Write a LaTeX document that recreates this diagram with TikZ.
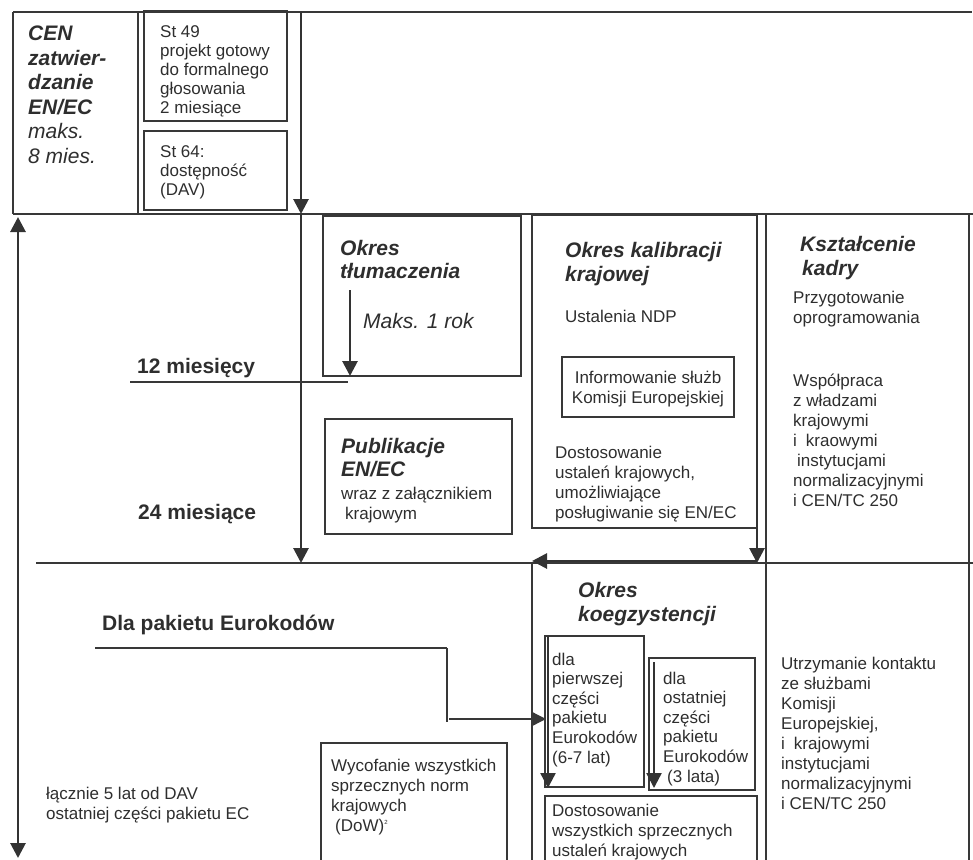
\documentclass[tikz,border=0pt]{standalone}
\usepackage{fontspec}
\setmainfont{Liberation Sans}
\usetikzlibrary{arrows.meta}

\begin{document}
\begin{tikzpicture}[x=1pt,y=-1pt,>={Triangle[length=15pt,width=15pt]},line join=miter,
  ln/.style={draw=black!78,line width=1.4pt},
  thk/.style={draw=black!80,line width=2.8pt},
  hd/.style={anchor=base west,inner sep=0pt,align=left,text=black!82,
    font=\fontsize{21}{23.5}\selectfont\bfseries\itshape},
  lbl/.style={anchor=base west,inner sep=0pt,text=black!82,
    font=\fontsize{21}{24}\selectfont\bfseries},
  txt/.style={anchor=base west,inner sep=0pt,align=left,text=black!82,
    font=\fontsize{17}{20}\selectfont}]
  \useasboundingbox (0,0) rectangle (973,859);
  % multi-line texts are placed at the baseline of their last line

  % time axis
  \coordinate (t0) at (301,12);
  \coordinate (t1) at (301,214);
  \coordinate (t2) at (301,563);
  \coordinate (l0) at (18,217);
  \coordinate (l1) at (18,858);

  % top band: CEN
  \draw[ln] (13,12) -- (972,12);
  \draw[ln] (13,12) -- (13,214);
  \draw[ln] (138,12) -- (138,214);
  \draw[ln] (13,214) -- (973,214);
  \draw[ln] (144,11) rectangle (287,121);
  \draw[ln] (144,131) rectangle (287,210);
  \node[hd,font=\fontsize{21}{24.5}\selectfont\itshape] (cen) at (28,163)
    {\textbf{CEN}\\\textbf{zatwier-}\\\textbf{dzanie}\\\textbf{EN/EC}\\maks.\\8 mies.};
  \node[txt,font=\fontsize{17}{19}\selectfont] (st49) at (160,113)
    {St 49\\projekt gotowy\\do formalnego\\głosowania\\2 miesiące};
  \node[txt,font=\fontsize{17}{19}\selectfont] (st64) at (160,195)
    {St 64:\\dostępność\\(DAV)};
  \draw[thk,->] (t0) -- (t1);

  % middle band
  \draw[thk,->] (t1) -- (t2);
  \draw[thk,<->] (l0) -- (l1);
  \draw[ln] (36,563) -- (973,563);
  \coordinate (m12a) at (130,382);
  \coordinate (m12b) at (348,382);
  \draw[ln] (m12a) -- (m12b);
  \node[lbl] (m12) at (137,373) {12 miesięcy};
  \node[lbl] (m24) at (138,519) {24 miesiące};

  \draw[ln] (323,216) rectangle (521,376);
  \node[hd] (tlum) at (340,278.5) {Okres\\tłumaczenia};
  \coordinate (r0) at (350,290);
  \coordinate (r1) at (350,376);
  \draw[thk,->] (r0) -- (r1);
  \node[txt,font=\fontsize{21}{24}\selectfont\itshape] (maks) at (363,328) {Maks. 1 rok};

  \draw[ln] (325,419) rectangle (512,534);
  \node[hd] (publ) at (341,476.5) {Publikacje\\EN/EC};
  \node[txt] (zal) at (341,519) {wraz z załącznikiem\\\hspace*{4pt}krajowym};

  \draw[ln] (757,215) -- (532,215) -- (532,528) -- (757,528);
  \node[hd] (kal) at (565,281) {Okres kalibracji\\krajowej};
  \node[txt] (ndp) at (565,322) {Ustalenia NDP};
  \draw[ln] (562,357) rectangle (734,417);
  \node[txt,anchor=base,align=center] (info) at (648,403) {Informowanie służb\\Komisji Europejskiej};
  \node[txt] (dost) at (555,518) {Dostosowanie\\ustaleń krajowych,\\umożliwiające\\posługiwanie się EN/EC};
  \coordinate (k0) at (757,215);
  \coordinate (k1) at (757,563);
  \coordinate (k2) at (757,561);
  \coordinate (k3) at (532,561);
  \draw[thk,->] (k0) -- (k1);
  \draw[thk,->] (k2) -- (k3);

  \draw[ln] (766,215) -- (766,860);
  \draw[ln] (969,215) -- (969,860);
  \node[hd] (kadr) at (800,275) {Kształcenie\\\hspace*{2pt}kadry};
  \node[txt] (prog) at (793,323) {Przygotowanie\\oprogramowania};
  \node[txt] (wspol) at (793,506)
    {Współpraca\\z władzami\\krajowymi\\i\hspace*{9pt}kraowymi\\\hspace*{4pt}instytucjami\\normalizacyjnymi\\i CEN/TC 250};

  % bottom band
  \draw[ln] (532,563) -- (532,860);
  \node[hd] (koeg) at (578,621) {Okres\\koegzystencji};
  \draw[ln] (545,636) rectangle (644,787);
  \draw[ln] (649,658) rectangle (755,790);
  \coordinate (p0) at (548,636);
  \coordinate (p1) at (548,788);
  \coordinate (q0) at (654,662);
  \coordinate (q1) at (654,788);
  \draw[thk,line width=2.4pt,->] (p0) -- (p1);
  \draw[thk,line width=2.4pt,->] (q0) -- (q1);
  \node[txt,font=\fontsize{17}{19.6}\selectfont] (pierw) at (552,763)
    {dla\\pierwszej\\części\\pakietu\\Eurokodów\\(6-7 lat)};
  \node[txt,font=\fontsize{17}{19.6}\selectfont] (ostat) at (663,782)
    {dla\\ostatniej\\części\\pakietu\\Eurokodów\\\hspace*{4pt}(3 lata)};
  \draw[ln] (545,860) -- (545,796) -- (757,796) -- (757,860);
  \node[txt] (dost2) at (552,856) {Dostosowanie\\wszystkich sprzecznych\\ustaleń krajowych};
  \node[txt] (utrz) at (781,809)
    {Utrzymanie kontaktu\\ze służbami\\Komisji\\Europejskiej,\\i\hspace*{9pt}krajowymi\\instytucjami\\normalizacyjnymi\\i CEN/TC 250};

  \node[lbl] (pak) at (102,630) {Dla pakietu Eurokodów};
  \coordinate (e0) at (95,648);
  \coordinate (e1) at (447,648);
  \coordinate (e2) at (447,722);
  \coordinate (e3) at (449,719);
  \coordinate (e4) at (546,719);
  \draw[ln] (e0) -- (e1);
  \draw[ln] (e1) -- (e2);
  \draw[ln,->] (e3) -- (e4);

  \node[txt] (lacz) at (46,819) {łącznie 5 lat od DAV\\ostatniej części pakietu EC};
  \draw[ln] (321,860) -- (321,743) -- (507,743) -- (507,860);
  \node[txt] (wyc) at (331,831)
    {Wycofanie wszystkich\\sprzecznych norm\\krajowych\\\hspace*{4pt}(DoW)\textsuperscript{\fontsize{6}{6}\selectfont 2}};
\end{tikzpicture}
\end{document}
